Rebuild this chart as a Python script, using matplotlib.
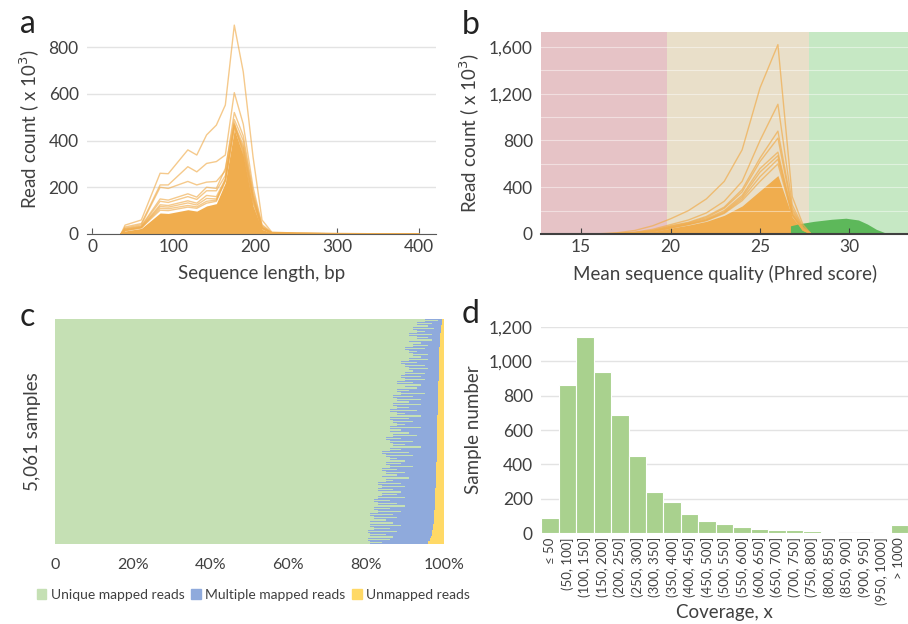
import matplotlib
matplotlib.use("Agg")
import matplotlib.pyplot as plt
from matplotlib.patches import Patch

plt.rcParams['font.family'] = ['Lato', 'DejaVu Sans']
TXT = '#404040'

# ---- panel a: read length distributions (x 10^3)
len_x = [35, 40, 60, 83, 93, 117, 128, 140, 152, 163, 174, 185, 197, 208, 220, 250, 300, 350, 400]
len_lines = [
    [0, 38, 60, 260, 258, 360, 338, 424, 466, 552, 894, 694, 330, 60, 8, 4, 2, 1, 0],
    [0, 30, 45, 210, 210, 288, 266, 302, 310, 338, 605, 470, 200, 40, 6, 3, 2, 1, 0],
    [0, 25, 40, 200, 195, 225, 210, 222, 225, 270, 520, 420, 180, 35, 5, 3, 1, 0.5, 0],
    [0, 22, 35, 150, 145, 172, 158, 200, 195, 280, 490, 400, 170, 30, 5, 2, 1, 0.5, 0],
    [0, 20, 32, 140, 135, 160, 148, 185, 185, 250, 470, 380, 160, 28, 4, 2, 1, 0, 0],
    [0, 18, 30, 125, 122, 142, 132, 165, 160, 235, 460, 370, 155, 26, 4, 2, 1, 0, 0],
    [0, 16, 28, 118, 115, 133, 124, 152, 150, 228, 455, 360, 150, 25, 4, 2, 1, 0, 0],
    [0, 15, 27, 110, 108, 122, 116, 140, 145, 232, 475, 350, 140, 24, 4, 2, 1, 0, 0],
    [0, 14, 26, 102, 100, 115, 110, 132, 140, 226, 465, 340, 132, 22, 4, 2, 1, 0, 0],
]
len_dense = [8, 13, 24, 90, 88, 104, 98, 120, 130, 220, 448, 335, 120, 20, 4, 2, 1, 0, 0]

# ---- panel b: mean quality distributions (x 10^3)
q_x = [15, 16, 17, 18, 19, 20, 21, 22, 23, 24, 25, 26, 26.8, 27.4, 27.8]
q_lines = [
    [0, 2, 10, 30, 70, 130, 200, 300, 450, 720, 1250, 1620, 320, 80, 10],
    [0, 1, 5, 15, 40, 80, 120, 180, 280, 450, 800, 1110, 250, 60, 8],
    [0, 1, 4, 12, 30, 70, 100, 150, 230, 380, 650, 880, 220, 50, 6],
    [0, 1, 4, 12, 30, 65, 95, 140, 220, 360, 620, 820, 200, 45, 5],
    [0, 1, 3, 10, 25, 60, 90, 130, 200, 330, 560, 700, 180, 40, 5],
    [0, 1, 3, 9, 22, 55, 85, 122, 190, 315, 530, 670, 170, 36, 5],
    [0, 1, 3, 9, 21, 52, 82, 118, 182, 300, 490, 640, 165, 34, 5],
    [0, 1, 3, 8, 20, 51, 80, 114, 176, 285, 450, 600, 160, 32, 4],
]
q_dense = [0, 1, 3, 8, 20, 50, 76, 108, 160, 240, 370, 500, 145, 28, 4]
g_x = [26.7, 27.2, 28, 29, 29.8, 30.5, 31, 31.5, 32, 32.7]
g_y = [70, 88, 108, 126, 135, 120, 85, 40, 10, 0]

# ---- panel c: mapping fractions per sample group (%), top to bottom
unique_pct = [95, 93, 94, 92, 93, 91, 93, 92, 91, 92,
              90, 91, 92, 90, 91, 89, 90, 91, 89, 90,
              89, 90, 88, 89, 90, 88, 89, 87, 88, 89,
              87, 88, 86, 88, 87, 86, 87, 88, 86, 87,
              86, 87, 85, 86, 87, 85, 86, 84, 85, 86,
              84, 85, 86, 84, 85, 83, 84, 85, 83, 84,
              83, 82, 84, 83, 82, 83, 81, 82, 83, 81,
              82, 81, 83, 81, 82, 80.5, 81, 82, 80.5, 81]
unique_max_pct = [98.5, 97, 96, 97.5, 95, 97, 96, 97, 94, 96,
                  95, 93, 96, 94, 96, 93, 95, 96, 92, 95,
                  94, 95, 92, 94, 93, 91, 95, 92, 94, 91,
                  94, 91, 93, 90, 94, 91, 92, 90, 94, 89,
                  91, 93, 89, 92, 90, 94, 89, 91, 92, 88,
                  90, 89, 92, 88, 90, 88, 91, 87, 89, 90,
                  87, 89, 88, 90, 86, 88, 90, 86, 89, 87,
                  88, 85, 87, 89, 86, 88, 85, 87, 86, 84]
unmapped_pct = [0.5, 0.6, 0.7, 0.8, 0.9, 1.0, 1.0, 1.1, 1.1, 1.1,
                1.2, 1.2, 1.2, 1.3, 1.3, 1.3, 1.3, 1.4, 1.4, 1.4,
                1.4, 1.4, 1.5, 1.5, 1.5, 1.5, 1.5, 1.5, 1.6, 1.6,
                1.6, 1.6, 1.6, 1.6, 1.7, 1.7, 1.7, 1.7, 1.7, 1.7,
                1.8, 1.8, 1.8, 1.8, 1.8, 1.8, 1.9, 1.9, 1.9, 1.9,
                1.9, 2.0, 2.0, 2.0, 2.0, 2.0, 2.1, 2.1, 2.1, 2.1,
                2.2, 2.2, 2.2, 2.3, 2.3, 2.3, 2.4, 2.4, 2.5, 2.5,
                2.6, 2.6, 2.7, 2.8, 2.9, 3.0, 3.2, 3.4, 3.7, 4.0]
multi_pct = [100 - u - m for u, m in zip(unique_pct, unmapped_pct)]

# ---- panel d: coverage histogram
cov_labels = ['≤ 50', '(50, 100]', '(100, 150]', '(150, 200]', '(200, 250]', '(250, 300]',
              '(300, 350]', '(350, 400]', '(400, 450]', '(450, 500]', '(500, 550]',
              '(550, 600]', '(600, 650]', '(650, 700]', '(700, 750]', '(750, 800]',
              '(800, 850]', '(850, 900]', '(900, 950]', '(950, 1000]', '> 1000']
cov_counts = [85, 860, 1140, 940, 690, 450, 240, 180, 110, 70, 55, 35, 25, 20, 20, 12, 8, 3, 3, 7, 45]

ORANGE = '#F0AD4E'
GREEN_C = '#C5E0B4'

fig = plt.figure(figsize=(9.08, 6.24), dpi=100)

# ---------------- a
ax = fig.add_axes([0.0958, 0.625, 0.384, 0.337])
ax.fill_between(len_x, 0, len_dense, color=ORANGE, lw=0)
for ys in len_lines[::-1]:
    ax.plot(len_x, ys, color=ORANGE, lw=1, alpha=0.65)
ax.set_xlim(-6.7, 421)
ax.set_ylim(0, 900)
ax.set_yticks([0, 200, 400, 600, 800])
ax.set_xticks([0, 100, 200, 300, 400])
ax.yaxis.grid(True, color='#e3e3e3', lw=1)
ax.set_axisbelow(True)
for s in ['top', 'right', 'left']:
    ax.spines[s].set_visible(False)
ax.spines['bottom'].set_color('#595959')
ax.tick_params(axis='y', length=0, labelsize=12.5, colors=TXT, pad=6)
ax.tick_params(axis='x', length=4, direction='in', labelsize=12.5, colors=TXT, color='#595959')
ax.set_xlabel('Sequence length, bp', fontsize=13.5, color=TXT, labelpad=7)
ax.set_ylabel('Read count ( x 10$^3$)', fontsize=13.5, color=TXT, labelpad=5)
fig.text(0.022, 0.962, 'a', fontsize=23, color='#222222', va='center')

# ---------------- b
bx = fig.add_axes([0.596, 0.625, 0.404, 0.3237])
bx.axvspan(12.77, 19.8, color='#E6C3C6', lw=0)
bx.axvspan(19.8, 27.74, color='#E9DFC9', lw=0)
bx.axvspan(27.74, 33.27, color='#C6E8C4', lw=0)
for yv in range(200, 1800, 200):
    bx.axhline(yv, color='white', lw=0.8, alpha=0.45)
bx.fill_between(q_x, 0, q_dense, color=ORANGE, lw=0)
for ys in q_lines[::-1]:
    bx.plot(q_x, ys, color=ORANGE, lw=1, alpha=0.7)
bx.fill_between(g_x, 0, g_y, color='#5DB85A', lw=0)
bx.set_xlim(12.77, 33.27)
bx.set_ylim(0, 1728)
bx.set_yticks([0, 400, 800, 1200, 1600])
bx.set_yticklabels(['0', '400', '800', '1,200', '1,600'])
bx.set_xticks([15, 20, 25, 30])
for s in ['top', 'right', 'left']:
    bx.spines[s].set_visible(False)
bx.spines['bottom'].set_color('#404040')
bx.spines['bottom'].set_linewidth(1.5)
bx.tick_params(axis='y', length=0, labelsize=12.5, colors=TXT, pad=6)
bx.tick_params(axis='x', length=4, direction='in', labelsize=12.5, colors=TXT, color='#404040')
bx.set_xlabel('Mean sequence quality (Phred score)', fontsize=13.5, color=TXT, labelpad=7)
bx.set_ylabel('Read count ( x 10$^3$)', fontsize=13.5, color=TXT, labelpad=5)
fig.text(0.508, 0.960, 'b', fontsize=23, color='#222222', va='center')

# ---------------- c
cx = fig.add_axes([0.0606, 0.1282, 0.4284, 0.3606])
rows = list(range(len(unique_pct)))
left2 = [u + m for u, m in zip(unique_pct, multi_pct)]
cx.barh(rows, unique_pct, height=1.0, color=GREEN_C, lw=0)
cx.barh(rows, multi_pct, left=unique_pct, height=1.0, color='#8FAADC', lw=0)
cx.barh(rows, unmapped_pct, left=left2, height=1.0, color='#FFD966', lw=0)
cx.barh(rows, unique_max_pct, height=0.45, color=GREEN_C, lw=0)
cx.set_xlim(0, 100)
cx.set_ylim(len(rows) - 0.5, -0.5)
cx.set_yticks([])
cx.set_xticks([0, 20, 40, 60, 80, 100])
cx.set_xticklabels(['0', '20%', '40%', '60%', '80%', '100%'])
for s in cx.spines.values():
    s.set_visible(False)
cx.tick_params(axis='x', length=0, labelsize=11.5, colors=TXT, pad=10)
cx.set_ylabel('5,061 samples', fontsize=13.5, color=TXT, labelpad=10)
handles = [Patch(color=GREEN_C, label='Unique mapped reads'),
           Patch(color='#8FAADC', label='Multiple mapped reads'),
           Patch(color='#FFD966', label='Unmapped reads')]
cx.legend(handles=handles, loc='center', bbox_to_anchor=(0.51, -0.227), ncol=3,
          frameon=False, fontsize=10, handlelength=0.7, handleheight=0.7,
          handletextpad=0.3, columnspacing=0.5, labelcolor=TXT)
fig.text(0.022, 0.492, 'c', fontsize=23, color='#222222', va='center')

# ---------------- d
dx = fig.add_axes([0.596, 0.1458, 0.404, 0.330])
xpos = list(range(len(cov_counts)))
dx.bar(xpos, cov_counts, width=1.0, color='#A9D18E', edgecolor='white', lw=0.8)
dx.set_xlim(-0.5, len(cov_counts) - 0.5)
dx.set_ylim(0, 1200)
dx.set_yticks([0, 200, 400, 600, 800, 1000, 1200])
dx.set_yticklabels(['0', '200', '400', '600', '800', '1,000', '1,200'])
dx.set_xticks(xpos)
dx.set_xticklabels(cov_labels, rotation=90, fontsize=9.5, color=TXT)
dx.yaxis.grid(True, color='#e3e3e3', lw=1)
dx.set_axisbelow(True)
for s in dx.spines.values():
    s.set_visible(False)
dx.tick_params(axis='y', length=0, labelsize=12.5, colors=TXT, pad=6)
dx.tick_params(axis='x', length=0, pad=3)
dx.set_xlabel('Coverage, x', fontsize=13.5, color=TXT)
dx.xaxis.set_label_coords(0.5, -0.385)
dx.xaxis.label.set_verticalalignment('center')
dx.set_ylabel('Sample number', fontsize=13.5, color=TXT, labelpad=5)
fig.text(0.508, 0.497, 'd', fontsize=23, color='#222222', va='center')

fig.savefig('out.png', dpi=100)
